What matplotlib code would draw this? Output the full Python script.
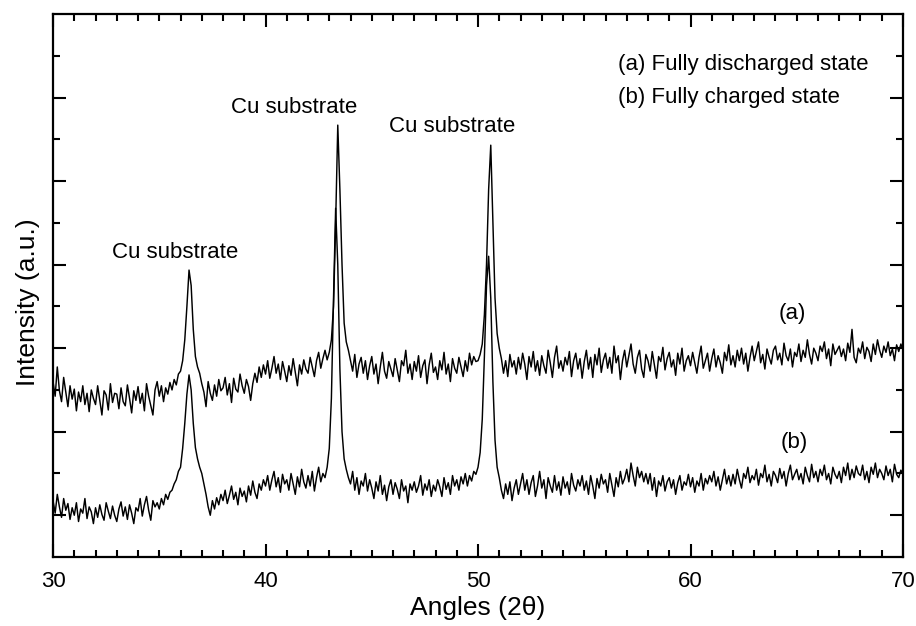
import numpy as np
import matplotlib; matplotlib.use("Agg")
import matplotlib.pyplot as plt
from matplotlib.ticker import MultipleLocator, FixedLocator

plt.rcParams["font.family"] = ["Liberation Sans", "DejaVu Sans"]

# 2-theta grid, 0.1 deg steps from 30 to 70
two_theta = np.round(np.arange(300, 701) / 10.0, 1)

# (a) fully discharged state, intensity in a.u. (one row per degree)
int_a = [
    420, 385, 455, 398, 372, 430, 395, 360, 410, 378,   # 30
    402, 350, 395, 372, 410, 365, 392, 348, 400, 380,   # 31
    365, 410, 375, 340, 398, 388, 352, 415, 370, 392,   # 32
    390, 355, 405, 372, 362, 412, 380, 345, 398, 375,   # 33
    408, 368, 392, 350, 415, 385, 362, 340, 400, 420,   # 34
    385, 410, 372, 405, 390, 418, 400, 425, 412, 438,   # 35
    445, 470, 520, 600, 687, 650, 545, 480, 455, 440,   # 36
    415, 395, 360, 420, 392, 375, 412, 385, 425, 398,   # 37
    405, 430, 388, 415, 370, 428, 402, 395, 438, 410,   # 38
    392, 425, 408, 375, 415, 440, 418, 455, 430, 460,   # 39
    438, 470, 428, 452, 480, 440, 462, 425, 468, 445,   # 40
    420, 458, 435, 475, 442, 410, 460, 438, 472, 450,   # 41
    440, 478, 455, 432, 470, 490, 452, 475, 495, 472,   # 42
    490, 520, 600, 800, 1034, 880, 700, 560, 515, 495,  # 43
    470, 445, 485, 430, 462, 478, 440, 470, 425, 458,   # 44
    480, 438, 462, 415, 455, 490, 445, 428, 468, 450,   # 45
    432, 475, 448, 420, 470, 458, 495, 440, 462, 425,   # 46
    468, 445, 482, 430, 458, 472, 415, 460, 488, 442,   # 47
    455, 425, 470, 448, 490, 438, 462, 420, 475, 452,   # 48
    440, 478, 455, 432, 470, 445, 488, 460, 480, 468,   # 49
    470, 485, 510, 580, 700, 880, 986, 800, 620, 535,   # 50
    500, 475, 440, 470, 432, 485, 455, 470, 438, 478,   # 51
    450, 488, 462, 425, 480, 455, 492, 445, 470, 435,   # 52
    482, 458, 440, 495, 465, 430, 478, 505, 452, 470,   # 53
    445, 478, 460, 492, 432, 470, 488, 450, 475, 428,   # 54
    468, 495, 450, 478, 430, 485, 460, 500, 442, 472,   # 55
    488, 452, 478, 440, 505, 465, 482, 425, 470, 495,   # 56
    455, 482, 510, 462, 440, 478, 495, 450, 430, 485,   # 57
    470, 445, 492, 460, 428, 480, 468, 502, 448, 475,   # 58
    490, 455, 472, 435, 488, 462, 500, 445, 470, 482,   # 59
    458, 490, 465, 440, 478, 505, 452, 470, 488, 445,   # 60
    475, 498, 455, 482, 465, 440, 490, 470, 508, 460,   # 61
    482, 455, 495, 470, 500, 462, 488, 445, 478, 505,   # 62
    470, 492, 515, 465, 485, 450, 498, 478, 462, 495,   # 63
    505, 472, 488, 460, 512, 482, 470, 498, 455, 490,   # 64
    480, 510, 468, 495, 478, 520, 485, 462, 500, 488,   # 65
    470, 505, 492, 515, 475, 498, 458, 510, 485, 495,   # 66
    505, 480, 498, 470, 512, 490, 545, 478, 465, 500,   # 67
    488, 515, 475, 502, 492, 468, 510, 485, 520, 495,   # 68
    478, 505, 490, 515, 482, 498, 470, 508, 492, 510,   # 69
    496,
]

# (b) fully charged state
int_b = [
    135, 105, 150, 120, 95, 140, 112, 128, 90, 118,     # 30
    100, 130, 85, 115, 105, 140, 92, 120, 108, 80,      # 31
    118, 95, 125, 102, 88, 130, 110, 92, 122, 100,      # 32
    85, 115, 132, 98, 120, 90, 125, 105, 80, 118,       # 33
    110, 140, 98, 125, 145, 112, 88, 135, 120, 130,     # 34
    115, 140, 125, 150, 138, 155, 160, 175, 185, 205,   # 35
    215, 260, 320, 390, 436, 400, 320, 262, 235, 215,   # 36
    200, 175, 150, 120, 100, 135, 115, 142, 125, 150,   # 37
    135, 160, 128, 148, 170, 138, 155, 125, 165, 145,   # 38
    158, 132, 170, 148, 182, 155, 140, 175, 160, 185,   # 39
    170, 195, 160, 185, 205, 168, 190, 155, 198, 175,   # 40
    185, 160, 200, 175, 150, 192, 168, 210, 180, 165,   # 41
    195, 170, 205, 158, 190, 215, 180, 200, 190, 215,   # 42
    260, 380, 620, 835, 700, 450, 300, 235, 210, 190,   # 43
    175, 205, 160, 190, 150, 182, 170, 200, 158, 185,   # 44
    165, 140, 180, 158, 195, 150, 172, 135, 168, 185,   # 45
    150, 178, 162, 140, 185, 158, 170, 130, 175, 160,   # 46
    180, 155, 170, 195, 148, 175, 160, 185, 145, 172,   # 47
    158, 185, 168, 145, 190, 162, 178, 150, 195, 170,   # 48
    185, 160, 192, 175, 200, 170, 195, 182, 205, 198,   # 49
    215, 250, 330, 480, 650, 720, 620, 420, 280, 215,   # 50
    190, 160, 140, 175, 150, 180, 135, 165, 185, 150,   # 51
    175, 200, 160, 185, 150, 178, 195, 145, 170, 205,   # 52
    165, 185, 140, 190, 170, 155, 195, 160, 180, 148,   # 53
    192, 165, 180, 150, 200, 172, 158, 185, 170, 195,   # 54
    160, 182, 150, 195, 170, 140, 188, 165, 198, 175,   # 55
    185, 155, 200, 172, 145, 190, 168, 205, 175, 188,   # 56
    210, 180, 225, 195, 170, 215, 190, 205, 180, 200,   # 57
    175, 200, 160, 190, 145, 182, 170, 195, 158, 180,   # 58
    190, 165, 185, 150, 178, 195, 160, 180, 172, 198,   # 59
    168, 190, 155, 182, 170, 200, 160, 188, 175, 195,   # 60
    180, 205, 170, 192, 160, 185, 210, 175, 195, 170,   # 61
    198, 175, 210, 185, 165, 200, 188, 215, 178, 195,   # 62
    185, 210, 172, 200, 190, 220, 180, 198, 170, 205,   # 63
    195, 178, 212, 188, 205, 170, 200, 220, 185, 198,   # 64
    210, 185, 200, 175, 215, 195, 180, 222, 190, 205,   # 65
    180, 210, 195, 220, 185, 200, 175, 215, 198, 188,   # 66
    205, 178, 215, 195, 225, 185, 210, 190, 218, 200,   # 67
    195, 220, 185, 205, 178, 215, 198, 225, 190, 210,   # 68
    200, 185, 218, 195, 210, 180, 222, 198, 190, 208,   # 69
    198,
]

peak_labels = ["Cu substrate", "Cu substrate", "Cu substrate"]
peak_label_pos = [(35.75, 730), (41.35, 1076), (48.8, 1030)]
legend_lines = ["(a) Fully discharged state", "(b) Fully charged state"]

fig = plt.figure(figsize=(9.16, 6.26), dpi=100)
ax = fig.add_axes([0.0579, 0.1102, 0.9279, 0.8674])

ax.plot(two_theta, int_a, color="black", lw=1.05)
ax.plot(two_theta, int_b, color="black", lw=1.05)

ax.set_xlim(30, 70); ax.set_ylim(0, 1300)
ax.xaxis.set_major_locator(MultipleLocator(10))
ax.xaxis.set_minor_locator(MultipleLocator(1))
ax.yaxis.set_major_locator(FixedLocator([100, 300, 500, 700, 900, 1100]))
ax.yaxis.set_minor_locator(FixedLocator([200, 400, 600, 800, 1000, 1200]))
ax.tick_params(which="both", direction="in", top=True, right=True, width=1.5)
ax.tick_params(which="major", length=9.5, labelsize=16)
ax.tick_params(which="minor", length=5)
ax.tick_params(axis="x", pad=10)
ax.tick_params(axis="y", pad=0)
ax.set_yticklabels([])
for s in ax.spines.values(): s.set_linewidth(1.6)

ax.set_xlabel("Angles (2θ)", fontsize=19, labelpad=3)
ax.set_ylabel("Intensity (a.u.)", fontsize=19)
ax.yaxis.set_label_coords(-0.0156, 0.47)

for txt, (px, py) in zip(peak_labels, peak_label_pos):
    ax.text(px, py, txt, fontsize=16, ha="center", va="center")

ax.text(56.6, 1178, legend_lines[0], fontsize=16, ha="left", va="center")
ax.text(56.6, 1101, legend_lines[1], fontsize=16, ha="left", va="center")
ax.text(64.8, 584, "(a)", fontsize=16, ha="center", va="center")
ax.text(64.9, 275, "(b)", fontsize=16, ha="center", va="center")

fig.savefig("out.png", dpi=100)
